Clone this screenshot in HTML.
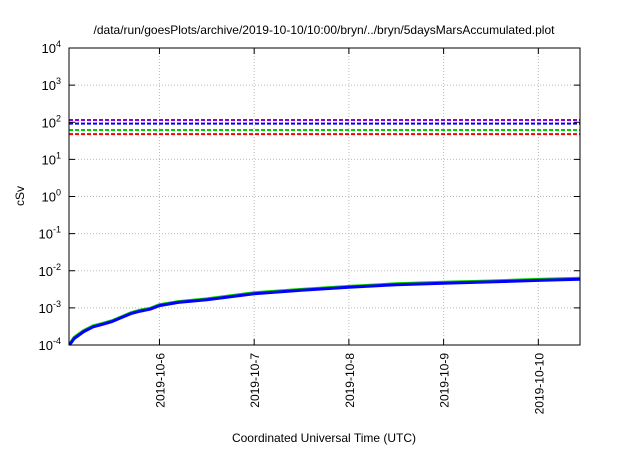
<!DOCTYPE html>
<html><head><meta charset="utf-8"><style>
body{margin:0;background:#fff}
svg text{font-family:"Liberation Sans",sans-serif;fill:#000}
</style></head><body>
<svg width="640" height="448">
<text x="324" y="34" text-anchor="middle" font-size="12">/data/run/goesPlots/archive/2019-10-10/10:00/bryn/../bryn/5daysMarsAccumulated.plot</text>
<g id="grid"></g>
<g id="series"></g>
<rect x="69" y="48" width="511" height="297" fill="none" stroke="#000" stroke-width="1"/>
<g id="axes"></g>
<text x="324" y="442" text-anchor="middle" font-size="12">Coordinated Universal Time (UTC)</text>
<text transform="translate(24,196) rotate(-90)" text-anchor="middle" font-size="12">cSv</text>
</svg>
<script>
const yExps=[-4,-3,-2,-1,0,1,2,3,4];
const xTickLabels=["2019-10-6","2019-10-7","2019-10-8","2019-10-9","2019-10-10"];
const xTickDays=[6,7,8,9,10];
const thresholds=[115,92,62,48];
const thresholdColors=["#9400d3","#0000ff","#00cc00","#ff0000"];
const times=[5.05,5.1,5.2,5.3,5.4,5.5,5.6,5.7,5.8,5.9,6.0,6.2,6.5,7.0,7.5,8.0,8.5,9.0,9.5,10.0,10.44];
const doseBlue=[1e-4,1.5e-4,2.3e-4,3.1e-4,3.6e-4,4.3e-4,5.5e-4,7e-4,8.2e-4,9.2e-4,1.15e-3,1.4e-3,1.65e-3,2.4e-3,3.0e-3,3.6e-3,4.2e-3,4.6e-3,5.0e-3,5.5e-3,5.9e-3];
const doseGreen=[1.05e-4,1.6e-4,2.45e-4,3.3e-4,3.8e-4,4.5e-4,5.8e-4,7.4e-4,8.7e-4,9.7e-4,1.22e-3,1.48e-3,1.75e-3,2.55e-3,3.15e-3,3.8e-3,4.45e-3,4.9e-3,5.3e-3,5.85e-3,6.3e-3];
const X0=69,X1=580,Y0=345,Y1=48,D0=5.045,D1=10.44;
const xs=d=>X0+(d-D0)/(D1-D0)*(X1-X0);
const ys=v=>Y0-(Math.log10(v)+4)/8*(Y0-Y1);
const NS="http://www.w3.org/2000/svg";
function mk(t,a,p){const e=document.createElementNS(NS,t);for(const k in a)e.setAttribute(k,a[k]);p.appendChild(e);return e;}
const grid=document.getElementById('grid'),axes=document.getElementById('axes'),ser=document.getElementById('series');
yExps.forEach(e=>{const y=ys(Math.pow(10,e));
 if(e>-4&&e<4){const g=mk('line',{x1:X0,x2:X1,y1:y,y2:y,stroke:'#bbb','stroke-dasharray':'1,2'},grid);
 
 }
 mk('line',{x1:X0,x2:X0+6,y1:y,y2:y,stroke:'#000'},axes);
 mk('line',{x1:X1,x2:X1-6,y1:y,y2:y,stroke:'#000'},axes);
 const t=mk('text',{x:X0-8,y:y+5,'text-anchor':'end','font-size':'13'},axes);
 
 
 t.innerHTML='10<tspan dy="-6" font-size="9">'+e+'</tspan>';});
xTickDays.forEach((d,i)=>{const x=xs(d);
 const g=mk('line',{x1:x,x2:x,y1:Y0,y2:Y1,stroke:'#bbb','stroke-dasharray':'1,2'},grid);
 
 
 mk('line',{x1:x,x2:x,y1:Y0,y2:Y0-6,stroke:'#000'},axes);
 mk('line',{x1:x,x2:x,y1:Y1,y2:Y1+6,stroke:'#000'},axes);
 const t=mk('text',{transform:`translate(${x+5},${Y0+8}) rotate(-90)`,'text-anchor':'end','font-size':'12'},axes);
 
 
 t.textContent=xTickLabels[i];});
thresholds.forEach((v,i)=>{const y=ys(v);
 const l=mk('line',{x1:X0,x2:X1,y1:y,y2:y,stroke:thresholdColors[i],'stroke-width':2,'stroke-dasharray':'4,2'},ser);
 
 });
function path(arr,c,w,n){const p=mk('path',{d:times.map((t,i)=>(i?'L':'M')+xs(t).toFixed(1)+','+ys(arr[i]).toFixed(1)).join(''),fill:'none',stroke:c,'stroke-width':w,'stroke-linejoin':'round'},ser);
 
 }
path(doseGreen,'#00cc00',3,'dose-line-green');
path(doseBlue,'#0000ff',3,'dose-line-blue');
</script>
</body></html>
